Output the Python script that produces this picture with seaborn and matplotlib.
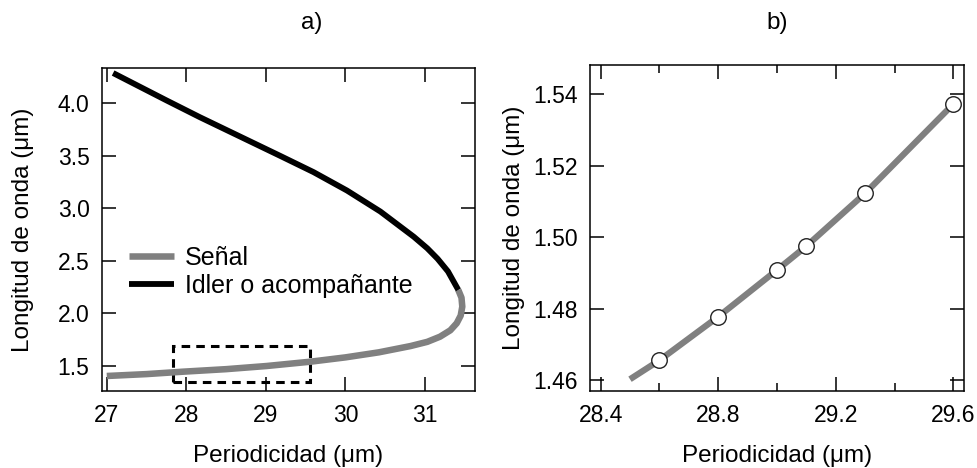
import pandas as pd
import seaborn as sns
import matplotlib.pyplot as plt
import matplotlib.ticker as mticker
from matplotlib.patches import Rectangle

# Panel a) tuning curves (periodicity um, wavelength um)
signal_period = [27.0, 27.5, 27.96, 28.5, 29.01, 29.56, 30.0, 30.42, 30.82, 31.03,
                 31.19, 31.32, 31.40, 31.45, 31.47, 31.46, 31.42]
signal_wl = [1.405, 1.423, 1.446, 1.47, 1.50, 1.541, 1.582, 1.630, 1.690, 1.730,
             1.779, 1.84, 1.907, 1.98, 2.065, 2.15, 2.224]
idler_period = [27.08, 27.75, 28.17, 28.59, 29.18, 29.60, 30.02, 30.44, 30.86, 31.03,
                31.16, 31.29, 31.42]
idler_wl = [4.288, 4.028, 3.868, 3.715, 3.50, 3.345, 3.170, 2.97, 2.73, 2.62,
            2.52, 2.40, 2.224]

# Panel b) zoomed signal curve and measured points
zoom_period = [28.5, 28.6, 28.8, 29.0, 29.1, 29.3, 29.6]
zoom_wl = [1.4602, 1.4655, 1.4777, 1.4908, 1.4975, 1.5123, 1.5373]
meas_period = [28.6, 28.8, 29.0, 29.1, 29.3, 29.6]
meas_wl = [1.4655, 1.4777, 1.4908, 1.4975, 1.5123, 1.5373]

# dashed box on panel a)
box_x = [27.835, 29.56]
box_y = [1.35, 1.69]

GREY = "#808080"
FS_TICK = 16.5
FS_LABEL = 17.5

sns.set_style("ticks")
plt.rcParams["font.family"] = ["Liberation Sans", "DejaVu Sans"]
plt.rcParams["text.color"] = "black"
plt.rcParams["axes.labelcolor"] = "black"
plt.rcParams["xtick.color"] = "black"
plt.rcParams["ytick.color"] = "black"

fig = plt.figure(figsize=(9.78, 4.68), dpi=100)
ax1 = fig.add_axes([0.1043, 0.1645, 0.3814, 0.6902])
ax2 = fig.add_axes([0.6033, 0.1645, 0.3824, 0.6966])

df_sig = pd.DataFrame({"x": signal_period, "y": signal_wl})
df_idl = pd.DataFrame({"x": idler_period, "y": idler_wl})
sns.lineplot(data=df_sig, x="x", y="y", sort=False, estimator=None, color=GREY,
             lw=4.7, ax=ax1, label="Señal", solid_capstyle="butt")
sns.lineplot(data=df_idl, x="x", y="y", sort=False, estimator=None, color="black",
             lw=4.2, ax=ax1, label="Idler o acompañante", solid_capstyle="butt")

ax1.add_patch(Rectangle((box_x[0], box_y[0]), box_x[1] - box_x[0], box_y[1] - box_y[0],
                        fill=False, ec="black", lw=2.2, ls=(0, (2.8, 2.0))))

ax1.set_xlim(26.94, 31.63)
ax1.set_ylim(1.262, 4.336)
ax1.xaxis.set_major_locator(mticker.MultipleLocator(1))
ax1.yaxis.set_major_locator(mticker.MultipleLocator(0.5))
ax1.yaxis.set_major_formatter(mticker.FormatStrFormatter("%.1f"))

ax1.legend(loc="upper left", bbox_to_anchor=(0.072, 0.45), frameon=False,
           borderpad=0, borderaxespad=0, handlelength=1.8, handletextpad=0.45,
           labelspacing=0.18, fontsize=18)

df_zoom = pd.DataFrame({"x": zoom_period, "y": zoom_wl})
df_meas = pd.DataFrame({"x": meas_period, "y": meas_wl})
sns.lineplot(data=df_zoom, x="x", y="y", sort=False, estimator=None, color=GREY,
             lw=4.5, ax=ax2, solid_capstyle="butt")
sns.scatterplot(data=df_meas, x="x", y="y", ax=ax2, s=125, color="white",
                edgecolor="#222222", linewidth=1.0, zorder=5)

ax2.set_xlim(28.364, 29.636)
ax2.set_ylim(1.4569, 1.5482)
ax2.xaxis.set_major_locator(mticker.MultipleLocator(0.4))
ax2.xaxis.set_minor_locator(mticker.MultipleLocator(0.2))
ax2.yaxis.set_major_locator(mticker.MultipleLocator(0.02))
ax2.yaxis.set_major_formatter(mticker.FormatStrFormatter("%.2f"))

for ax, ypad in ((ax1, 17), (ax2, 6)):
    ax.set_xlabel("Periodicidad (μm)", fontsize=FS_LABEL, labelpad=13)
    ax.set_ylabel("Longitud de onda (μm)", fontsize=FS_LABEL, labelpad=ypad)
    ax.tick_params(which="major", direction="in", length=10, width=1.1,
                   top=True, right=True, labelsize=FS_TICK, pad=9)
    ax.tick_params(which="minor", direction="in", length=5.5, width=1.1,
                   top=True, right=True)
    for s in ax.spines.values():
        s.set_linewidth(1.1)
        s.set_color("black")

fig.text(0.319, 0.950, "a)", ha="center", va="center", fontsize=FS_LABEL)
fig.text(0.795, 0.950, "b)", ha="center", va="center", fontsize=FS_LABEL)

fig.savefig("out.png", dpi=100, facecolor="white")
